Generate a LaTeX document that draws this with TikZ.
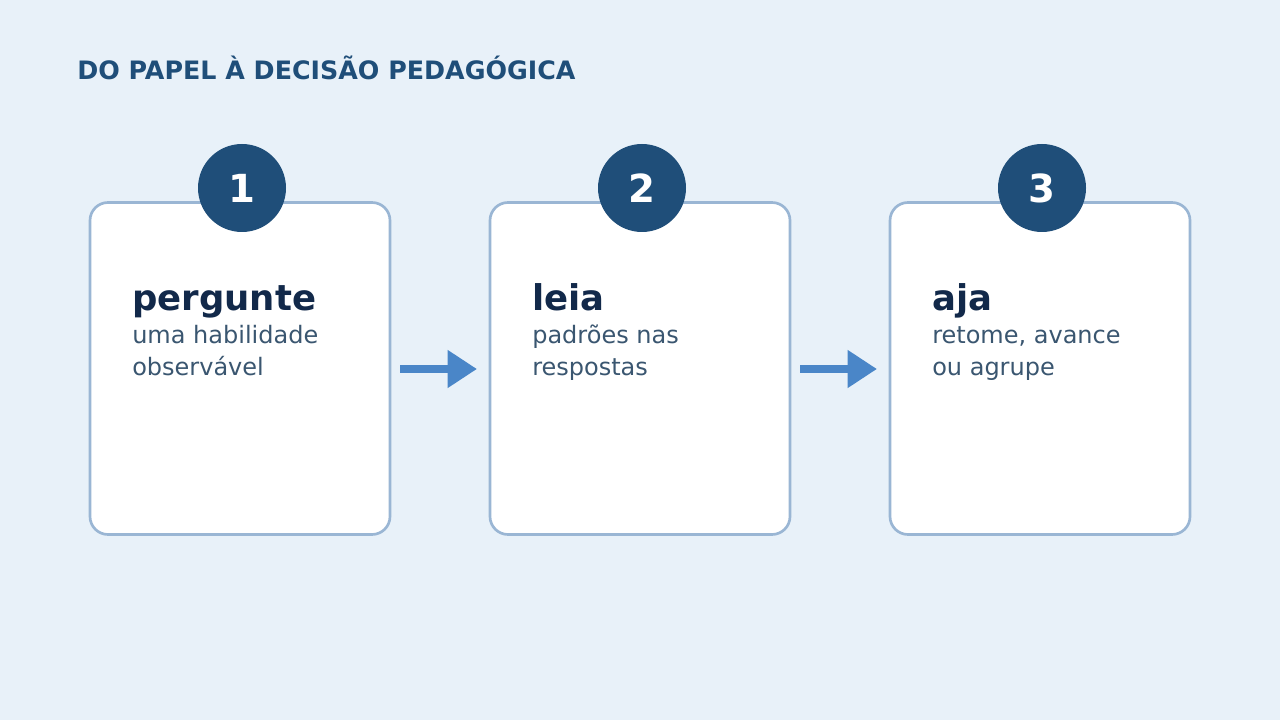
\documentclass[tikz,border=0pt]{standalone}
\usepackage{fontspec}
\setmainfont{DejaVu Sans}
\usetikzlibrary{arrows.meta,positioning}
\definecolor{bgc}{HTML}{E8F1F9}
\definecolor{navy}{HTML}{1F4E79}
\definecolor{dark}{HTML}{12294A}
\definecolor{body}{HTML}{3A5670}
\definecolor{edge}{HTML}{9AB6D4}
\definecolor{arr}{HTML}{4A86C8}
\tikzset{
  card/.style={draw=edge,line width=2pt,fill=white,rounded corners=13.5pt,
    minimum width=225pt,minimum height=249pt,inner sep=0pt},
  badge/.style={circle,fill=navy,minimum size=66pt,inner sep=0pt,
    text=white,font=\bfseries\fontsize{29}{32}\selectfont},
  head/.style={anchor=base west,inner sep=0pt,text=dark,
    font=\bfseries\fontsize{26.6}{30}\selectfont},
  note/.style={anchor=base west,align=left,inner sep=0pt,text=body,
    font=\fontsize{18}{23.3}\selectfont},
  flow/.style={draw=arr,line width=6pt,-{Triangle[length=22pt,width=27pt]}}
}
\begin{document}
\begin{tikzpicture}[x=0.75pt,y=-0.75pt]
\fill[bgc] (0,0) rectangle (1280,720);
\useasboundingbox (0,0) rectangle (1280,720);
\node[anchor=base west,inner sep=0pt,text=navy,font=\bfseries\fontsize{19}{22}\selectfont]
  (title) at (77,80) {DO PAPEL À DECISÃO PEDAGÓGICA};
% cards
\foreach \i/\x/\h/\a/\b in {1/240/pergunte/uma habilidade/observável,
                           2/640/leia/padrões nas/respostas,
                           3/1040/aja/{retome, avance}/ou agrupe}{
  \node[card] (c\i) at (\x,368.5) {};
  \node[badge] (n\i) at ({\x+2},188) {\i};
  \node[head] (h\i) at ({\x-108},310) {\h};
  \node[note] (t\i) at ({\x-108},375) {\a\\\b};
}
\coordinate (a1) at (400,369);
\coordinate (b1) at (477,369);
\coordinate (a2) at (800,369);
\coordinate (b2) at (877,369);
\draw[flow] (a1) -- (b1);
\draw[flow] (a2) -- (b2);
\end{tikzpicture}
\end{document}
